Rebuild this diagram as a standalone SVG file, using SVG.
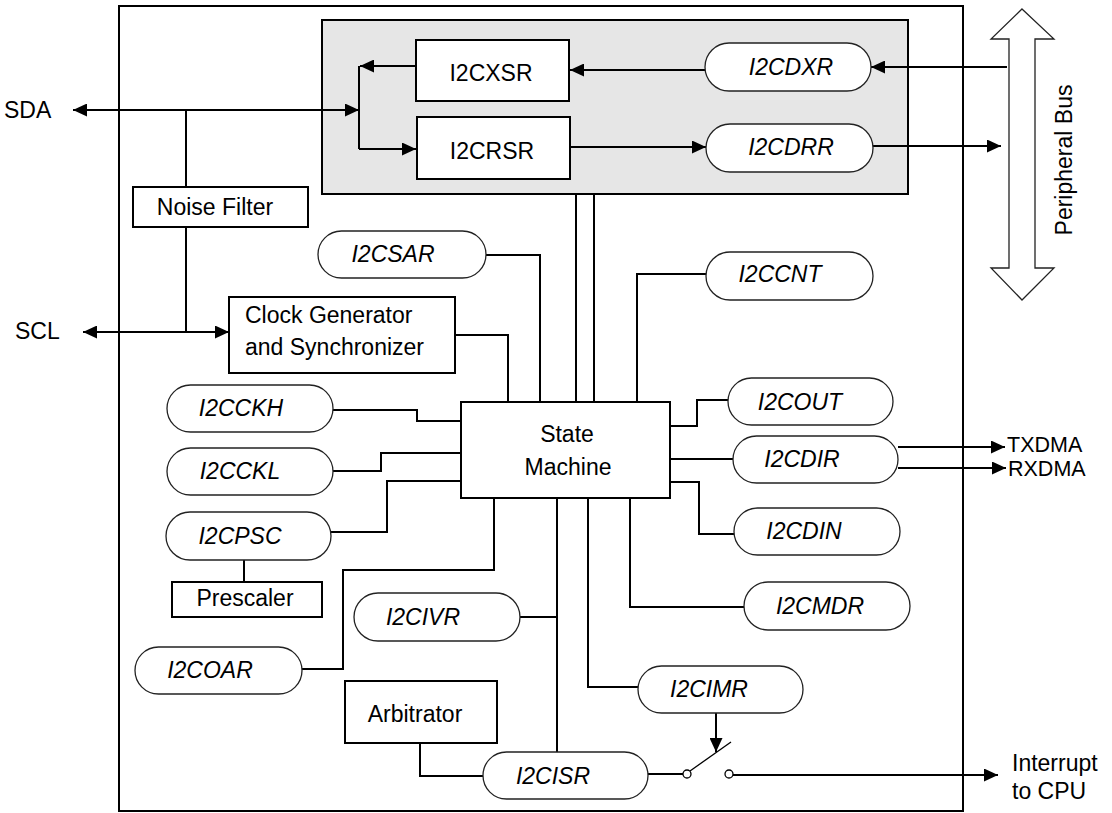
<svg xmlns="http://www.w3.org/2000/svg" width="1112" height="813" viewBox="0 0 1112 813">
  <style>
    text { font-family: "Liberation Sans", Arial, sans-serif; font-size: 23px; fill: #000; }
    .reg { font-style: italic; text-anchor: middle; }
    .mid { text-anchor: middle; }
    .dma { font-size: 21.5px; }
    .box { fill: #fff; stroke: #000; stroke-width: 2; }
    .pill { fill: #fff; stroke: #222; stroke-width: 1.3; }
    .wire { fill: none; stroke: #000; stroke-width: 2; }
    .arr { marker-end: url(#ah); }
    .arr2 { marker-start: url(#ah); marker-end: url(#ah); }
  </style>
  <defs>
    <marker id="ah" viewBox="0 0 14 13" refX="14" refY="6.5" markerWidth="14" markerHeight="13" markerUnits="userSpaceOnUse" orient="auto-start-reverse">
      <path d="M0,0 L14,6.5 L0,13 Z" fill="#000"/>
    </marker>
  </defs>

  <rect width="1112" height="813" fill="#fff"/>

  <!-- peripheral outline -->
  <rect id="i2c-module" x="119" y="6" width="844" height="805" fill="none" stroke="#000" stroke-width="2"/>

  <!-- data shift/buffer area -->
  <rect id="data-path" x="322" y="20" width="586" height="174" fill="#e6e6e6" stroke="#000" stroke-width="2"/>

  <!-- peripheral bus double arrow -->
  <g id="peripheral-bus">
    <polygon points="1022,9 1054,39 1035,39 1035,268 1054,268 1022,300 991,268 1009,268 1009,39 991,39" fill="#fff" stroke="#222" stroke-width="1.3"/>
    <text class="mid" transform="translate(1072,160) rotate(-90)">Peripheral Bus</text>
  </g>

  <!-- connectors -->
  <g id="connectors">
    <path class="wire arr2" d="M73,110 H359"/>
    <path class="wire" d="M359,66 V149"/>
    <path class="wire arr" d="M416,66 H360"/>
    <path class="wire arr" d="M359,149 H416"/>
    <path class="wire" d="M186,110 V187"/>
    <path class="wire" d="M186,227 V332"/>
    <path class="wire arr2" d="M83,332 H229"/>
    <path class="wire arr" d="M1007,67 H871"/>
    <path class="wire arr" d="M705,70 H570"/>
    <path class="wire arr" d="M570,147 H706"/>
    <path class="wire arr" d="M873,146 H1001"/>
    <path class="wire" d="M576,194 V402"/>
    <path class="wire" d="M594,194 V402"/>
    <path class="wire" d="M486,255 H540 V402"/>
    <path class="wire" d="M455,335 H508 V402"/>
    <path class="wire" d="M706,274 H637 V402"/>
    <path class="wire" d="M333,410 H417 V421 H461"/>
    <path class="wire" d="M333,471 H381 V453 H461"/>
    <path class="wire" d="M331,532 H387 V481 H463"/>
    <path class="wire" d="M244,560 V582"/>
    <path class="wire" d="M302,669 H343 V570 H494 V498"/>
    <path class="wire" d="M520,617 H557"/>
    <path class="wire" d="M557,498 V752"/>
    <path class="wire" d="M588,498 V687 H638"/>
    <path class="wire" d="M630,498 V607 H744"/>
    <path class="wire" d="M670,426 H697 V400 H728"/>
    <path class="wire" d="M670,459 H733"/>
    <path class="wire" d="M670,482 H699 V534 H734"/>
    <path class="wire arr" d="M898,447 H1005"/>
    <path class="wire arr" d="M898,468 H1006"/>
    <path class="wire" d="M420,742 V776 H483"/>
    <path class="wire" d="M648,774 H683"/>
    <path class="wire arr" d="M716,713 V752"/>
    <path class="wire arr" d="M733,775 H998"/>
  </g>

  <!-- interrupt enable switch -->
  <g id="int-switch">
    <line x1="690" y1="771" x2="731" y2="742" stroke="#000" stroke-width="1.3"/>
    <circle cx="687" cy="774" r="4" fill="#fff" stroke="#000" stroke-width="1.3"/>
    <circle cx="729" cy="774" r="4" fill="#fff" stroke="#000" stroke-width="1.3"/>
  </g>

  <!-- pins -->
  <g id="pin-sda"><text x="4" y="118">SDA</text></g>
  <g id="pin-scl"><text x="15" y="339">SCL</text></g>
  <g id="out-txdma"><text class="dma" x="1007" y="452">TXDMA</text></g>
  <g id="out-rxdma"><text class="dma" x="1008" y="476">RXDMA</text></g>
  <g id="out-int"><text x="1012" y="771">Interrupt</text><text x="1012" y="799">to CPU</text></g>

  <!-- functional blocks -->
  <g id="i2cxsr"><rect class="box" x="416" y="40" width="153" height="61"/><text class="mid" x="491" y="81">I2CXSR</text></g>
  <g id="i2crsr"><rect class="box" x="417" y="117" width="153" height="62"/><text class="mid" x="492" y="159">I2CRSR</text></g>
  <g id="noise-filter"><rect class="box" x="133" y="187" width="175" height="40"/><text class="mid" x="215" y="215">Noise Filter</text></g>
  <g id="clock-gen"><rect class="box" x="229" y="297" width="226" height="76"/><text x="245" y="323">Clock Generator</text><text x="245" y="355">and Synchronizer</text></g>
  <g id="state-machine"><rect class="box" x="461" y="402" width="209" height="96"/><text class="mid" x="567" y="442">State</text><text class="mid" x="568" y="475">Machine</text></g>
  <g id="prescaler"><rect class="box" x="172" y="582" width="150" height="35"/><text class="mid" x="245" y="606">Prescaler</text></g>
  <g id="arbitrator"><rect class="box" x="345" y="681" width="152" height="62"/><text class="mid" x="415" y="722">Arbitrator</text></g>

  <!-- registers -->
  <g id="i2cdxr"><rect class="pill" x="705" y="43" width="166" height="48" rx="24"/><text class="reg" x="791" y="75">I2CDXR</text></g>
  <g id="i2cdrr"><rect class="pill" x="706" y="124" width="167" height="48" rx="24"/><text class="reg" x="791" y="155">I2CDRR</text></g>
  <g id="i2ccnt"><rect class="pill" x="706" y="252" width="167" height="48" rx="24"/><text class="reg" x="780" y="282">I2CCNT</text></g>
  <g id="i2csar"><rect class="pill" x="318" y="231" width="168" height="47" rx="23.5"/><text class="reg" x="393" y="262">I2CSAR</text></g>
  <g id="i2cckh"><rect class="pill" x="167" y="385" width="166" height="47" rx="23.5"/><text class="reg" x="241" y="416">I2CCKH</text></g>
  <g id="i2cckl"><rect class="pill" x="167" y="448" width="166" height="47" rx="23.5"/><text class="reg" x="240" y="479">I2CCKL</text></g>
  <g id="i2cpsc"><rect class="pill" x="166" y="512" width="165" height="48" rx="24"/><text class="reg" x="240" y="544">I2CPSC</text></g>
  <g id="i2coar"><rect class="pill" x="135" y="647" width="167" height="47" rx="23.5"/><text class="reg" x="210" y="678">I2COAR</text></g>
  <g id="i2civr"><rect class="pill" x="354" y="593" width="166" height="48" rx="24"/><text class="reg" x="423" y="625">I2CIVR</text></g>
  <g id="i2cisr"><rect class="pill" x="483" y="752" width="165" height="47" rx="23.5"/><text class="reg" x="553" y="784">I2CISR</text></g>
  <g id="i2cimr"><rect class="pill" x="638" y="666" width="165" height="47" rx="23.5"/><text class="reg" x="709" y="697">I2CIMR</text></g>
  <g id="i2cmdr"><rect class="pill" x="744" y="582" width="166" height="48" rx="24"/><text class="reg" x="820" y="614">I2CMDR</text></g>
  <g id="i2cout"><rect class="pill" x="728" y="378" width="165" height="47" rx="23.5"/><text class="reg" x="800" y="410">I2COUT</text></g>
  <g id="i2cdir"><rect class="pill" x="733" y="436" width="165" height="47" rx="23.5"/><text class="reg" x="802" y="467">I2CDIR</text></g>
  <g id="i2cdin"><rect class="pill" x="734" y="508" width="166" height="47" rx="23.5"/><text class="reg" x="804" y="539">I2CDIN</text></g>
</svg>
